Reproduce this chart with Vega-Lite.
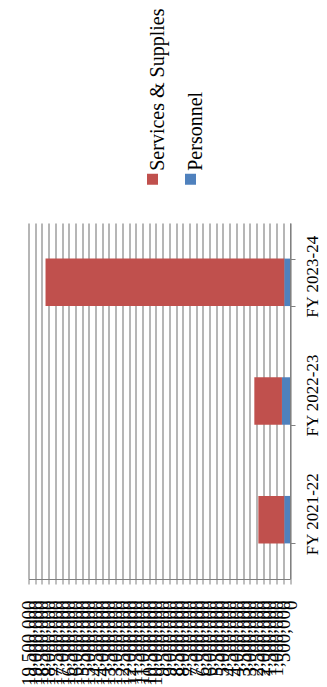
{
  "$schema": "https://vega.github.io/schema/vega-lite/v6.json",
  "width": 261.5,
  "height": 356,
  "autosize": "none",
  "padding": {"left": 28.5, "top": 223, "right": 37, "bottom": 108},
  "background": "white",
  "config": {
    "view": {"stroke": null},
    "font": "Liberation Serif"
  },
  "data": {
    "values": [
      {"year": "FY 2021-22", "category": "Personnel", "amount": 430000},
      {"year": "FY 2021-22", "category": "Services & Supplies", "amount": 1930000},
      {"year": "FY 2022-23", "category": "Personnel", "amount": 600000},
      {"year": "FY 2022-23", "category": "Services & Supplies", "amount": 2060000},
      {"year": "FY 2023-24", "category": "Personnel", "amount": 430000},
      {"year": "FY 2023-24", "category": "Services & Supplies", "amount": 17800000}
    ]
  },
  "mark": {"type": "bar"},
  "encoding": {
    "y": {
      "field": "year",
      "type": "nominal",
      "sort": ["FY 2023-24", "FY 2022-23", "FY 2021-22"],
      "scale": {"paddingInner": 0.6, "paddingOuter": 0.3},
      "axis": {
        "title": null,
        "orient": "right",
        "grid": false,
        "domainColor": "#808080",
        "domainWidth": 1,
        "tickColor": "#808080",
        "tickSize": 5,
        "tickBand": "extent",
        "labelAngle": -90,
        "labelAlign": "center",
        "labelBaseline": "top",
        "labelPadding": 9,
        "labelOffset": -6,
        "labelFont": "Liberation Serif",
        "labelFontSize": 17,
        "labelColor": "black"
      }
    },
    "x": {
      "field": "amount",
      "type": "quantitative",
      "stack": "zero",
      "scale": {"domain": [0, 19500000], "nice": false, "reverse": true},
      "axis": {
        "title": null,
        "orient": "bottom",
        "tickCount": 39,
        "format": ",.0f",
        "grid": true,
        "gridColor": "#7a7a7a",
        "gridWidth": 1.1,
        "domainColor": "#808080",
        "tickColor": "#808080",
        "tickSize": 5,
        "labelAngle": -90,
        "labelAlign": "right",
        "labelBaseline": "middle",
        "labelPadding": 16,
        "labelOverlap": false,
        "labelFlush": false,
        "labelBound": false,
        "labelFont": "Liberation Serif",
        "labelFontSize": 19,
        "labelColor": "black"
      }
    },
    "color": {
      "field": "category",
      "type": "nominal",
      "scale": {
        "domain": ["Services & Supplies", "Personnel"],
        "range": ["#C0504D", "#4F81BD"]
      },
      "legend": {
        "title": null,
        "orient": "none",
        "legendX": 114,
        "legendY": -54,
        "direction": "horizontal",
        "padding": 0,
        "symbolType": "square",
        "symbolSize": 121,
        "symbolStrokeWidth": 0,
        "columnPadding": 12,
        "labelFont": "Liberation Serif",
        "labelFontSize": 20,
        "labelColor": "black",
        "labelLimit": 0,
        "labelOffset": 1,
        "labelAlign": "left",
        "labelBaseline": "alphabetic",
        "encode": {
          "labels": {
            "update": {"angle": {"value": -90}, "dx": {"value": 8.5}}
          }
        }
      }
    }
  }
}
